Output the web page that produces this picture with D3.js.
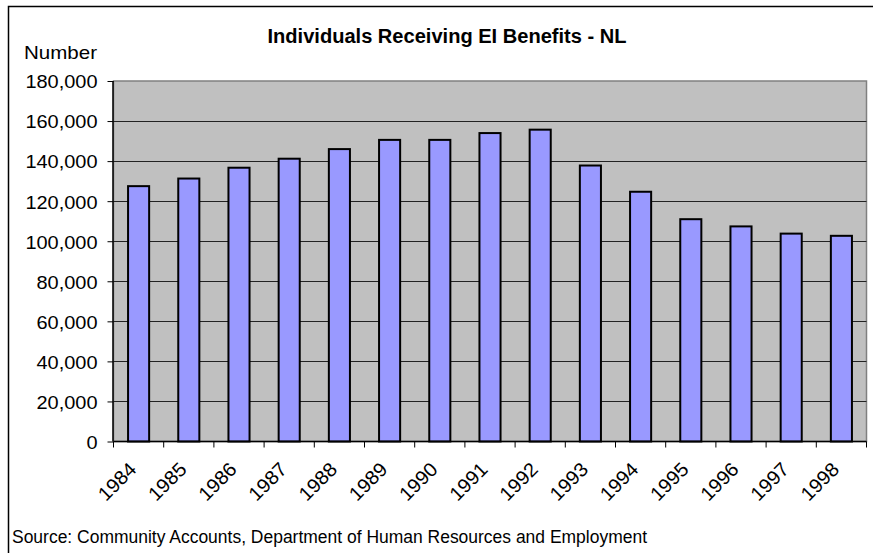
<!DOCTYPE html>
<html><head><meta charset="utf-8">
<script src="https://cdn.jsdelivr.net/npm/d3@7"></script>
<style>
html,body{margin:0;padding:0;background:#fff;}
svg text{font-family:"Liberation Sans",Arial,sans-serif;fill:#000;}
</style></head>
<body>
<svg id="chart" width="873" height="553"></svg>
<script>
const years = ["1984","1985","1986","1987","1988","1989","1990","1991","1992","1993","1994","1995","1996","1997","1998"];
const individuals = [127500,131300,136700,141200,146000,150600,150600,154000,155700,137800,124700,111000,107400,103800,102700];
const yTicks = [0,20000,40000,60000,80000,100000,120000,140000,160000,180000];
const titleText = "Individuals Receiving EI Benefits - NL";
const yAxisTitle = "Number";
const sourceText = "Source: Community Accounts, Department of Human Resources and Employment";

const svg = d3.select("#chart");
const L = 113.5, R = 866.5, T = 81, B = 441.5;

function fitWidth(sel, w){
  sel.attr("textLength", w).attr("lengthAdjust","spacingAndGlyphs");
}
function stretch(sel, f){
  sel.each(function(){
    const w = this.getComputedTextLength();
    d3.select(this).attr("textLength", w*f).attr("lengthAdjust","spacingAndGlyphs");
  });
}

// outer frame
svg.append("rect").attr("x",8.5).attr("y",6.5).attr("width",900).attr("height",600)
  .attr("fill","#fff").attr("stroke","#000").attr("stroke-width",1.5);

const x = d3.scaleBand().domain(years).range([L,R]).paddingInner(0.58).paddingOuter(0.29);
const y = d3.scaleLinear().domain([0,180000]).range([B,T]);

// plot background
svg.append("rect").attr("x",L).attr("y",T).attr("width",R-L).attr("height",B-T)
  .attr("fill","#C0C0C0").attr("stroke","#808080").attr("stroke-width",1.5);

// gridlines
svg.append("g").selectAll("line").data(yTicks.filter(d=>d>0 && d<180000)).join("line")
  .attr("x1",L).attr("x2",R).attr("y1",d=>Math.round(y(d))+0.5).attr("y2",d=>Math.round(y(d))+0.5)
  .attr("stroke","#222").attr("stroke-width",1);

// bars
svg.append("g").selectAll("rect").data(years).join("rect")
  .attr("x",d=>x(d)).attr("width",x.bandwidth())
  .attr("y",(d,i)=>y(individuals[i])).attr("height",(d,i)=>B-y(individuals[i]))
  .attr("fill","#9999FF").attr("stroke","#000").attr("stroke-width",2);

// y axis
const yAxis = d3.axisLeft(y).tickValues(yTicks).tickSize(6).tickPadding(10)
  .tickFormat(d3.format(","));
const gy = svg.append("g").attr("transform",`translate(${L},0)`).call(yAxis);
gy.select(".domain").attr("stroke","#000").attr("stroke-width",1.5).attr("d",`M-0.5,${T}V${B}`);
gy.selectAll(".tick line").attr("stroke","#000");
gy.selectAll(".tick text").attr("font-size",19).attr("font-family",null).attr("dy","0.36em").call(stretch,1.05);

// x axis
const step = x.step();
const boundaries = d3.range(years.length+1).map(i=>L + i*step);
svg.append("line").attr("x1",L).attr("x2",R).attr("y1",B).attr("y2",B).attr("stroke","#000").attr("stroke-width",1.5);
svg.append("g").selectAll("line").data(boundaries).join("line")
  .attr("x1",d=>d).attr("x2",d=>d).attr("y1",B).attr("y2",B+6).attr("stroke","#000");
svg.append("g").selectAll("text").data(years).join("text")
  .attr("transform",d=>`translate(${x(d)+x.bandwidth()/2-1},${B+29}) rotate(-45)`)
  .attr("text-anchor","end").attr("font-size",19.5).text(d=>d).call(stretch,1.03);

// title
svg.append("text").attr("x",447).attr("y",42.5).attr("text-anchor","middle")
  .attr("font-size",19.5).attr("font-weight","bold").text(titleText).call(fitWidth,359);
// y axis title
svg.append("text").attr("x",24).attr("y",59.3).attr("font-size",18.5).text(yAxisTitle).call(fitWidth,73);
// source
svg.append("text").attr("x",12).attr("y",543).attr("font-size",17.5).text(sourceText).call(fitWidth,635);
</script>
</body></html>
